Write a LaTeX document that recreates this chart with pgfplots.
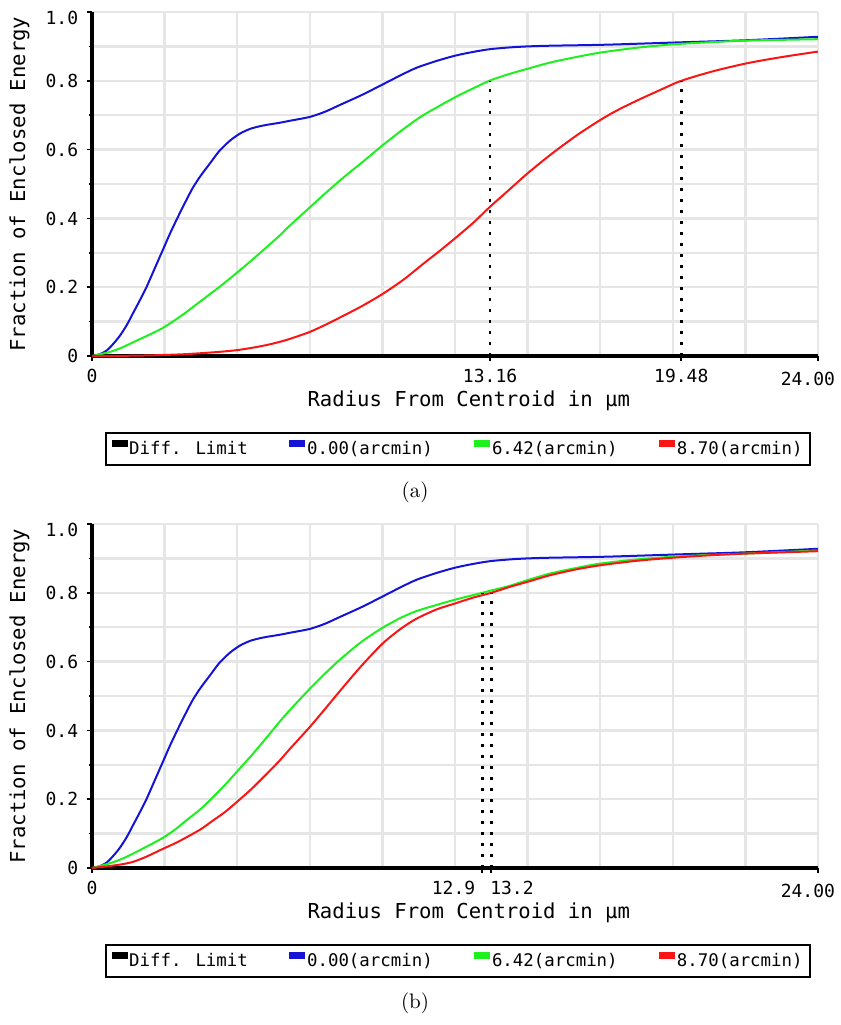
\documentclass[border=0pt]{standalone}
\usepackage{pgfplots}
\pgfplotsset{compat=1.18}
\usepackage{fontspec}
\newfontfamily\monofont{DejaVu Sans Mono}
\definecolor{cblue}{RGB}{20,20,215}
\definecolor{cgreen}{RGB}{30,240,30}
\definecolor{cred}{RGB}{250,20,20}
\definecolor{cgrid}{RGB}{230,230,230}

\pgfplotstableread{
x y
0 0
0.25 0.005
0.5 0.017
0.75 0.04
0.93 0.06
1.15 0.09
1.36 0.125
1.6 0.165
1.8 0.2
2.1 0.26
2.35 0.31
2.6 0.36
2.9 0.415
3.1 0.45
3.34 0.49
3.6 0.525
3.9 0.56
4.2 0.595
4.56 0.626
4.9 0.647
5.22 0.66
5.5 0.667
5.78 0.672
6.2 0.678
6.55 0.684
7.2 0.695
7.7 0.71
8.2 0.73
8.9 0.758
9.6 0.789
10.2 0.816
10.73 0.838
11.4 0.858
12 0.873
12.6 0.884
13.16 0.892
13.8 0.897
14.4 0.9
15.14 0.902
17 0.905
19.5 0.912
21.65 0.918
24 0.928
}\blue

\pgfplotstableread{
x y
0 0
0.6 0.012
1.0 0.025
1.36 0.04
1.8 0.058
2.35 0.082
3.0 0.12
3.57 0.158
4.2 0.2
4.79 0.242
5.3 0.28
5.78 0.317
6.2 0.35
6.55 0.38
7.2 0.432
7.7 0.472
8.3 0.518
9.0 0.568
9.6 0.612
10.3 0.66
10.95 0.70
12 0.752
12.6 0.778
13.16 0.801
13.8 0.82
14.4 0.835
15.14 0.853
16.0 0.869
16.8 0.882
18.0 0.896
19.2 0.906
20.4 0.912
21.65 0.917
24 0.921
}\greenA

\pgfplotstableread{
x y
0 0
1 0.0005
2 0.002
3 0.005
3.57 0.008
4.2 0.012
4.79 0.017
5.3 0.024
5.78 0.032
6.2 0.041
6.55 0.05
7.2 0.07
7.7 0.09
8.2 0.112
8.9 0.144
9.6 0.18
10.3 0.222
10.95 0.268
11.5 0.306
12 0.342
12.6 0.387
13.16 0.434
13.8 0.484
14.4 0.531
15.14 0.584
16.0 0.64
16.8 0.686
17.4 0.716
18.1 0.746
18.8 0.774
19.48 0.80
20.5 0.827
21.65 0.851
22.8 0.869
24 0.885
}\redA

\pgfplotstableread{
x y
0 0
0.6 0.014
1.0 0.027
1.36 0.042
1.8 0.062
2.35 0.088
2.75 0.112
3.14 0.14
3.6 0.172
4.0 0.206
4.4 0.242
4.79 0.28
5.3 0.33
5.78 0.38
6.2 0.425
6.55 0.46
7.2 0.521
7.7 0.565
8.2 0.606
8.9 0.657
9.6 0.698
10.2 0.727
10.73 0.747
11.4 0.765
12 0.78
12.9 0.80
13.16 0.806
13.8 0.82
14.4 0.837
15.14 0.856
16.0 0.872
16.8 0.885
18.0 0.897
19.2 0.905
20.4 0.91
21.6 0.914
24 0.923
}\greenB

\pgfplotstableread{
x y
0 0
0.6 0.006
1.0 0.011
1.36 0.018
1.8 0.033
2.35 0.056
2.75 0.072
3.14 0.09
3.6 0.113
4.0 0.138
4.4 0.163
4.79 0.192
5.3 0.232
5.78 0.274
6.2 0.312
6.55 0.347
7.2 0.41
7.7 0.462
8.2 0.515
8.9 0.587
9.6 0.652
10.2 0.695
10.73 0.725
11.4 0.752
12 0.769
12.6 0.786
13.2 0.80
13.8 0.817
14.4 0.832
15.14 0.851
16.0 0.868
16.8 0.88
18.0 0.893
19.2 0.902
20.4 0.909
21.6 0.914
24 0.921
}\redB

\pgfplotsset{
  eestyle/.style={
    scale only axis, width=363pt, height=172pt,
    xmin=0, xmax=24, ymin=0, ymax=1,
    axis lines=left,
    axis line style={-, line width=2pt, black},
    clip=false,
    tick align=outside,
    major tick length=2.5pt, minor tick length=1.5pt,
    every tick/.style={black, line width=0.8pt},
    minor x tick style={draw=none},
    minor xtick={2.4,4.8,7.2,9.6,12,14.4,16.8,19.2,21.6,24},
    xminorgrids, ymajorgrids, yminorgrids,
    major grid style={cgrid, line width=1.2pt},
    minor grid style={cgrid, line width=1.2pt},
    ytick={0,0.2,0.4,0.6,0.8,1},
    yticklabels={0,0.2,0.4,0.6,0.8,\raisebox{-3pt}{1.0}},
    minor ytick={0.1,0.3,0.5,0.7,0.9},
    yticklabel style={font=\monofont\fontsize{9}{10}\selectfont, anchor=base east, inner sep=0pt, xshift=-4.25pt, yshift=-3.3pt},
    xticklabel style={font=\monofont\fontsize{9}{10}\selectfont, anchor=base, inner sep=0pt, yshift=-10.8pt},
    xlabel={Radius From Centroid in μm},
    ylabel={Fraction of Enclosed Energy},
    xlabel style={at={(axis description cs:0.519,-0.146)}, anchor=base, font=\monofont\fontsize{10.3}{12}\selectfont},
    ylabel style={at={(axis description cs:-0.1,0.5)}, anchor=center, font=\monofont\fontsize{10.3}{12}\selectfont},
    legend image code/.code={\fill[##1] (0pt,1.5pt) rectangle (7pt,4pt);},
    legend columns=4,
    legend style={at={(0.504,-0.221)}, anchor=north, draw=black, line width=1pt,
      font=\monofont\fontsize{8.7}{10}\selectfont,
      nodes={inner xsep=0.8pt},
      /tikz/every even column/.append style={column sep=20pt}},
    legend entries={Diff. Limit, 0.00(arcmin), 6.42(arcmin), 8.70(arcmin)},
  },
  curve/.style={#1, line width=1pt, smooth, tension=0.45},
  dotline/.style={black, line width=1.3pt, dash pattern=on 1.3pt off 4.2pt, forget plot},
}

\begin{document}
\begin{tikzpicture}
\useasboundingbox (-46pt,178pt) rectangle (374.5pt,-334.5pt);
\begin{axis}[eestyle, at={(0,0)}, anchor=south west,
  xtick={0,13.16,19.48,24},
  xticklabels={\makebox[0pt]{0},\makebox[0pt]{13.16},\makebox[0pt]{19.48},\raisebox{-1.5pt}{\makebox[0pt][r]{24.00\kern-8.5pt}}}]
\addlegendimage{black}
\addplot[curve=cblue] table {\blue};
\addplot[curve=cgreen] table {\greenA};
\addplot[curve=cred] table {\redA};
\addplot[dotline] coordinates {(13.16,0) (13.16,0.8)};
\addplot[dotline] coordinates {(19.48,0) (19.48,0.8)};
\node[font=\fontsize{10.5}{12}\selectfont] at (axis description cs:0.445,-0.395) {(a)};
\end{axis}
\begin{axis}[eestyle, at={(0,-256pt)}, anchor=south west,
  xtick={0,12.9,13.2,24},
  xticklabels={\makebox[0pt]{0},\makebox[0pt][r]{12.9\kern3.5pt},\makebox[0pt][l]{\kern-0.5pt13.2},\raisebox{-1.5pt}{\makebox[0pt][r]{24.00\kern-8.5pt}}}]
\addlegendimage{black}
\addplot[curve=cblue] table {\blue};
\addplot[curve=cgreen] table {\greenB};
\addplot[curve=cred] table {\redB};
\addplot[dotline] coordinates {(12.9,0) (12.9,0.8)};
\addplot[dotline] coordinates {(13.2,0) (13.2,0.8)};
\node[font=\fontsize{10.5}{12}\selectfont] at (axis description cs:0.445,-0.392) {(b)};
\end{axis}
\end{tikzpicture}
\end{document}
